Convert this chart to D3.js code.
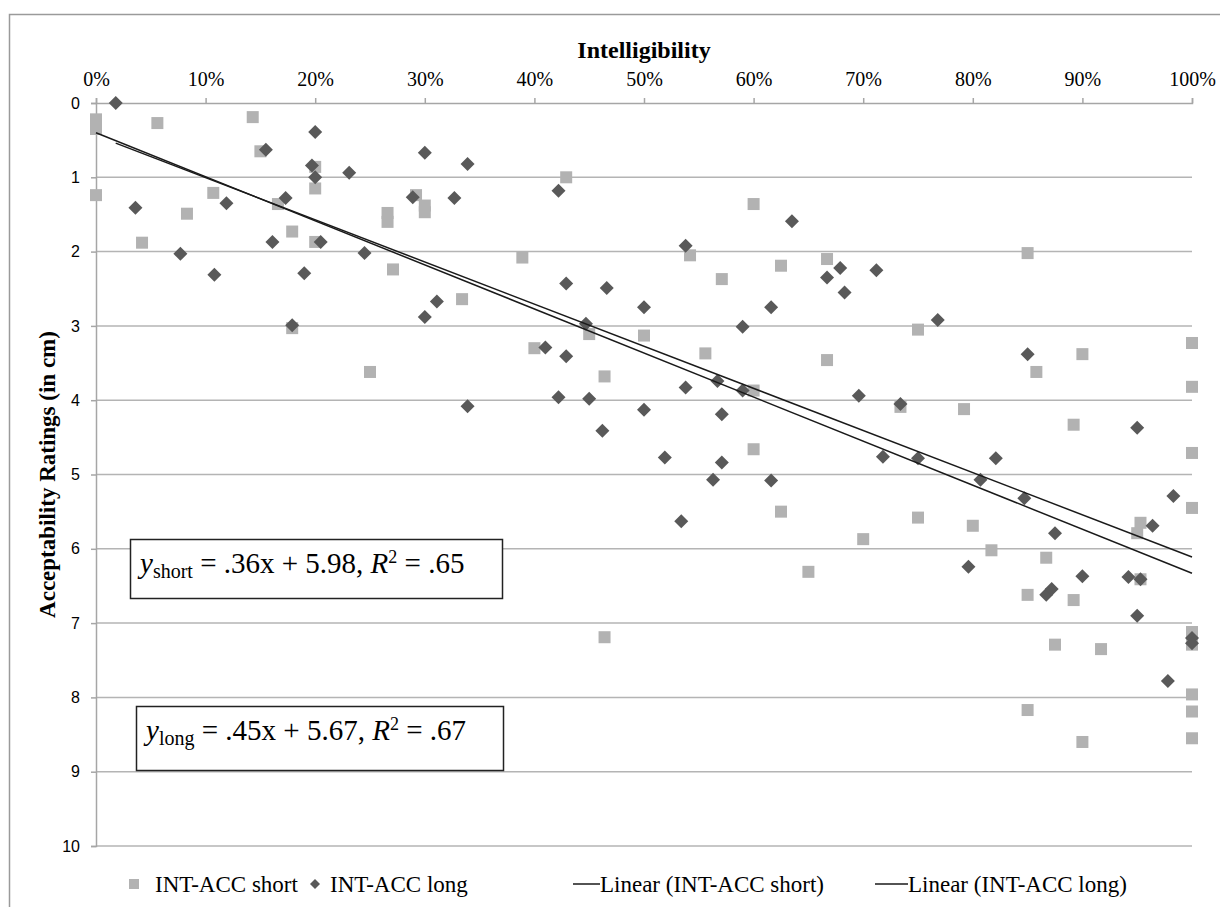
<!DOCTYPE html>
<html>
<head>
<meta charset="utf-8">
<script src="https://cdn.jsdelivr.net/npm/d3@7"></script>
<style>
  body { margin: 0; background: #fff; }
  svg text { fill: #000; }
</style>
</head>
<body>
<div id="app"></div>
<script>
// INT-ACC short (intelligibility %, rating cm)
const shortX = [0, 0, 0, 4.2, 5.6, 8.3, 10.7, 14.3, 15, 16.6, 17.9, 17.9, 20, 20, 20, 25, 26.6, 26.6, 27.1, 29.2,
	30, 30, 33.4, 38.9, 40, 42.9, 45, 46.4, 46.4, 50, 54.2, 55.6, 57.1, 60, 60, 60, 62.5, 62.5, 65, 66.7,
	66.7, 70, 73.4, 75, 75, 79.2, 80, 81.7, 85, 85, 85, 85.8, 86.7, 87.5, 89.2, 89.2, 90, 90, 91.7, 95,
	95.3, 95.3, 100, 100, 100, 100, 100, 100, 100, 100, 100];
const shortY = [0.22, 0.35, 1.24, 1.88, 0.27, 1.49, 1.21, 0.19, 0.65, 1.36, 1.73, 3.03, 0.86, 1.15, 1.87, 3.62, 1.48, 1.6, 2.24, 1.24,
	1.38, 1.47, 2.64, 2.08, 3.3, 1.0, 3.11, 3.68, 7.19, 3.13, 2.05, 3.37, 2.37, 1.36, 3.87, 4.66, 2.19, 5.5, 6.31, 2.1,
	3.46, 5.87, 4.09, 3.05, 5.58, 4.12, 5.69, 6.02, 2.02, 6.62, 8.17, 3.62, 6.12, 7.29, 4.33, 6.69, 3.38, 8.6, 7.35, 5.79,
	5.65, 6.41, 3.23, 3.82, 4.71, 5.45, 7.12, 7.29, 7.96, 8.19, 8.55];

// INT-ACC long
const longX = [1.8, 3.6, 7.7, 10.8, 11.9, 15.5, 16.1, 17.3, 17.9, 19, 19.7, 20, 20, 20.5, 23.1, 24.5, 28.9, 30, 30, 31.1,
	32.7, 33.9, 33.9, 41, 42.2, 42.2, 42.9, 42.9, 44.7, 45, 46.2, 46.6, 50, 50, 51.9, 53.4, 53.8, 53.8, 56.3, 56.7,
	57.1, 57.1, 59, 59, 61.6, 61.6, 63.5, 66.7, 67.9, 68.3, 69.6, 71.2, 71.8, 73.4, 75, 76.8, 79.6, 80.7, 82.1, 84.7,
	85, 86.7, 87.2, 87.5, 90, 94.2, 95, 95, 95.3, 96.4, 97.8, 98.3, 100, 100];
const longY = [0.0, 1.41, 2.03, 2.31, 1.35, 0.63, 1.87, 1.28, 2.99, 2.29, 0.84, 0.39, 1.0, 1.87, 0.94, 2.02, 1.27, 0.67, 2.88, 2.67,
	1.28, 0.82, 4.08, 3.29, 1.18, 3.96, 2.43, 3.41, 2.97, 3.98, 4.41, 2.49, 2.75, 4.13, 4.77, 5.63, 1.92, 3.83, 5.07, 3.74,
	4.19, 4.84, 3.01, 3.87, 2.75, 5.08, 1.59, 2.35, 2.22, 2.55, 3.94, 2.25, 4.76, 4.05, 4.78, 2.92, 6.24, 5.07, 4.78, 5.32,
	3.38, 6.62, 6.54, 5.79, 6.37, 6.38, 4.37, 6.9, 6.41, 5.69, 7.78, 5.29, 7.2, 7.27];

// trend line end points
const trendShortX = [0, 100];
const trendShortY = [0.40, 6.33];
const trendLongX = [1.8, 100];
const trendLongY = [0.54, 6.11];

const xTicks = [0, 10, 20, 30, 40, 50, 60, 70, 80, 90, 100];
const yTicks = [0, 1, 2, 3, 4, 5, 6, 7, 8, 9, 10];

const legendLabels = ['INT-ACC short', 'INT-ACC long', 'Linear (INT-ACC short)', 'Linear (INT-ACC long)'];

const width = 1220;
const height = 907;
const serif = '"Liberation Serif", "Times New Roman", serif';

const svg = d3.select('#app').append('svg')
	.attr('width', width)
	.attr('height', height);

// outer chart frame
svg.append('rect')
	.attr('x', 9.5).attr('y', 14.5)
	.attr('width', 1230).attr('height', 920)
	.attr('fill', 'none')
	.attr('stroke', '#9a9a9a')
	.attr('stroke-width', 1.5);

const x = d3.scaleLinear().domain([0, 100]).range([96, 1192]);
const y = d3.scaleLinear().domain([0, 10]).range([103, 846]);

// gridlines
svg.append('g')
	.selectAll('line')
	.data(yTicks.slice(1))
	.join('line')
	.attr('x1', x(0)).attr('x2', x(100))
	.attr('y1', (d) => y(d)).attr('y2', (d) => y(d))
	.attr('stroke', '#b4b4b4')
	.attr('stroke-width', 1.5);

// top x axis
const xAxis = svg.append('g')
	.attr('transform', `translate(0,${y(0)})`)
	.call(d3.axisTop(x).tickValues(xTicks).tickSize(5).tickPadding(12).tickFormat((d) => d + '%'));
xAxis.select('.domain').attr('stroke', '#a6a6a6').attr('stroke-width', 1.5);
xAxis.selectAll('.tick line').attr('stroke', '#a6a6a6').attr('stroke-width', 1.5);
xAxis.selectAll('.tick text')
	.attr('font-family', serif)
	.attr('font-size', 20)
	.attr('fill', '#111');

// left y axis
const yAxis = svg.append('g')
	.attr('transform', `translate(${x(0)},0)`)
	.call(d3.axisLeft(y).tickValues(yTicks).tickSize(5).tickPadding(11).tickFormat(d3.format('d')));
yAxis.select('.domain').attr('stroke', '#a6a6a6').attr('stroke-width', 1.5);
yAxis.selectAll('.tick line').attr('stroke', '#a6a6a6').attr('stroke-width', 1.5);
yAxis.selectAll('.tick text')
	.attr('font-family', '"Liberation Sans", Arial, sans-serif')
	.attr('font-size', 16)
	.attr('fill', '#222');

// axis titles
svg.append('text')
	.attr('x', (x(0) + x(100)) / 2)
	.attr('y', 58)
	.attr('text-anchor', 'middle')
	.attr('font-family', serif)
	.attr('font-weight', 'bold')
	.attr('font-size', 24)
	.text('Intelligibility');

svg.append('text')
	.attr('transform', `translate(55,${(y(0) + y(10)) / 2}) rotate(-90)`)
	.attr('text-anchor', 'middle')
	.attr('font-family', serif)
	.attr('font-weight', 'bold')
	.attr('font-size', 23)
	.text('Acceptability Ratings (in cm)');

// markers
const shortColor = '#b2b2b2';
const longColor = '#595959';
const sq = 12;
const dm = 7;

const shortData = shortX.map((v, i) => ({ x: v, y: shortY[i] }));
const longData = longX.map((v, i) => ({ x: v, y: longY[i] }));

svg.append('g')
	.selectAll('rect')
	.data(shortData)
	.join('rect')
	.attr('x', (d) => x(d.x) - sq / 2)
	.attr('y', (d) => y(d.y) - sq / 2)
	.attr('width', sq)
	.attr('height', sq)
	.attr('fill', shortColor);

const diamond = (cx, cy, r) => `M${cx},${cy - r}L${cx + r},${cy}L${cx},${cy + r}L${cx - r},${cy}Z`;

svg.append('g')
	.selectAll('path')
	.data(longData)
	.join('path')
	.attr('d', (d) => diamond(x(d.x), y(d.y), dm))
	.attr('fill', longColor);

// trend lines
const line = d3.line().x((d) => x(d[0])).y((d) => y(d[1]));
svg.append('path')
	.attr('d', line(d3.zip(trendShortX, trendShortY)))
	.attr('fill', 'none')
	.attr('stroke', '#1a1a1a')
	.attr('stroke-width', 1.5);
svg.append('path')
	.attr('d', line(d3.zip(trendLongX, trendLongY)))
	.attr('fill', 'none')
	.attr('stroke', '#1a1a1a')
	.attr('stroke-width', 1.5);

// equation boxes
const equations = [
	{ sub: 'short', rest: ' = .36x + 5.98, ', r2: ' = .65', box: [130, 539, 372, 59] },
	{ sub: 'long', rest: ' = .45x + 5.67, ', r2: ' = .67', box: [136, 706, 367, 64] },
];

equations.forEach((eq) => {
	const [bx, by, bw, bh] = eq.box;
	svg.append('rect')
		.attr('x', bx + 0.5).attr('y', by + 0.5)
		.attr('width', bw).attr('height', bh)
		.attr('fill', '#fff')
		.attr('stroke', '#222')
		.attr('stroke-width', 1.5);
	const t = svg.append('text')
		.attr('x', bx + 10)
		.attr('y', by + 34)
		.attr('font-family', serif)
		.attr('font-size', 29);
	t.append('tspan').attr('font-style', 'italic').text('y');
	t.append('tspan').attr('font-size', 20).attr('dy', 5).text(eq.sub);
	t.append('tspan').attr('dy', -5).text(eq.rest);
	t.append('tspan').attr('font-style', 'italic').text('R');
	t.append('tspan').attr('font-size', 18).attr('dy', -10).text('2');
	t.append('tspan').attr('dy', 10).text(eq.r2);
});

// legend
const legendY = 884;
const legend = svg.append('g').attr('font-family', serif).attr('font-size', 23);

legend.append('rect')
	.attr('x', 129).attr('y', legendY - 5)
	.attr('width', 10).attr('height', 10)
	.attr('fill', shortColor);
legend.append('text').attr('x', 155).attr('y', legendY + 8).text(legendLabels[0]);

legend.append('path')
	.attr('d', diamond(315, legendY, 5))
	.attr('fill', longColor);
legend.append('text').attr('x', 330).attr('y', legendY + 8).text(legendLabels[1]);

legend.append('line')
	.attr('x1', 573).attr('x2', 600)
	.attr('y1', legendY).attr('y2', legendY)
	.attr('stroke', '#1a1a1a').attr('stroke-width', 1.5);
legend.append('text').attr('x', 600).attr('y', legendY + 8).text(legendLabels[2]);

legend.append('line')
	.attr('x1', 875).attr('x2', 908)
	.attr('y1', legendY).attr('y2', legendY)
	.attr('stroke', '#1a1a1a').attr('stroke-width', 1.5);
legend.append('text').attr('x', 908).attr('y', legendY + 8).text(legendLabels[3]);
</script>
</body>
</html>
